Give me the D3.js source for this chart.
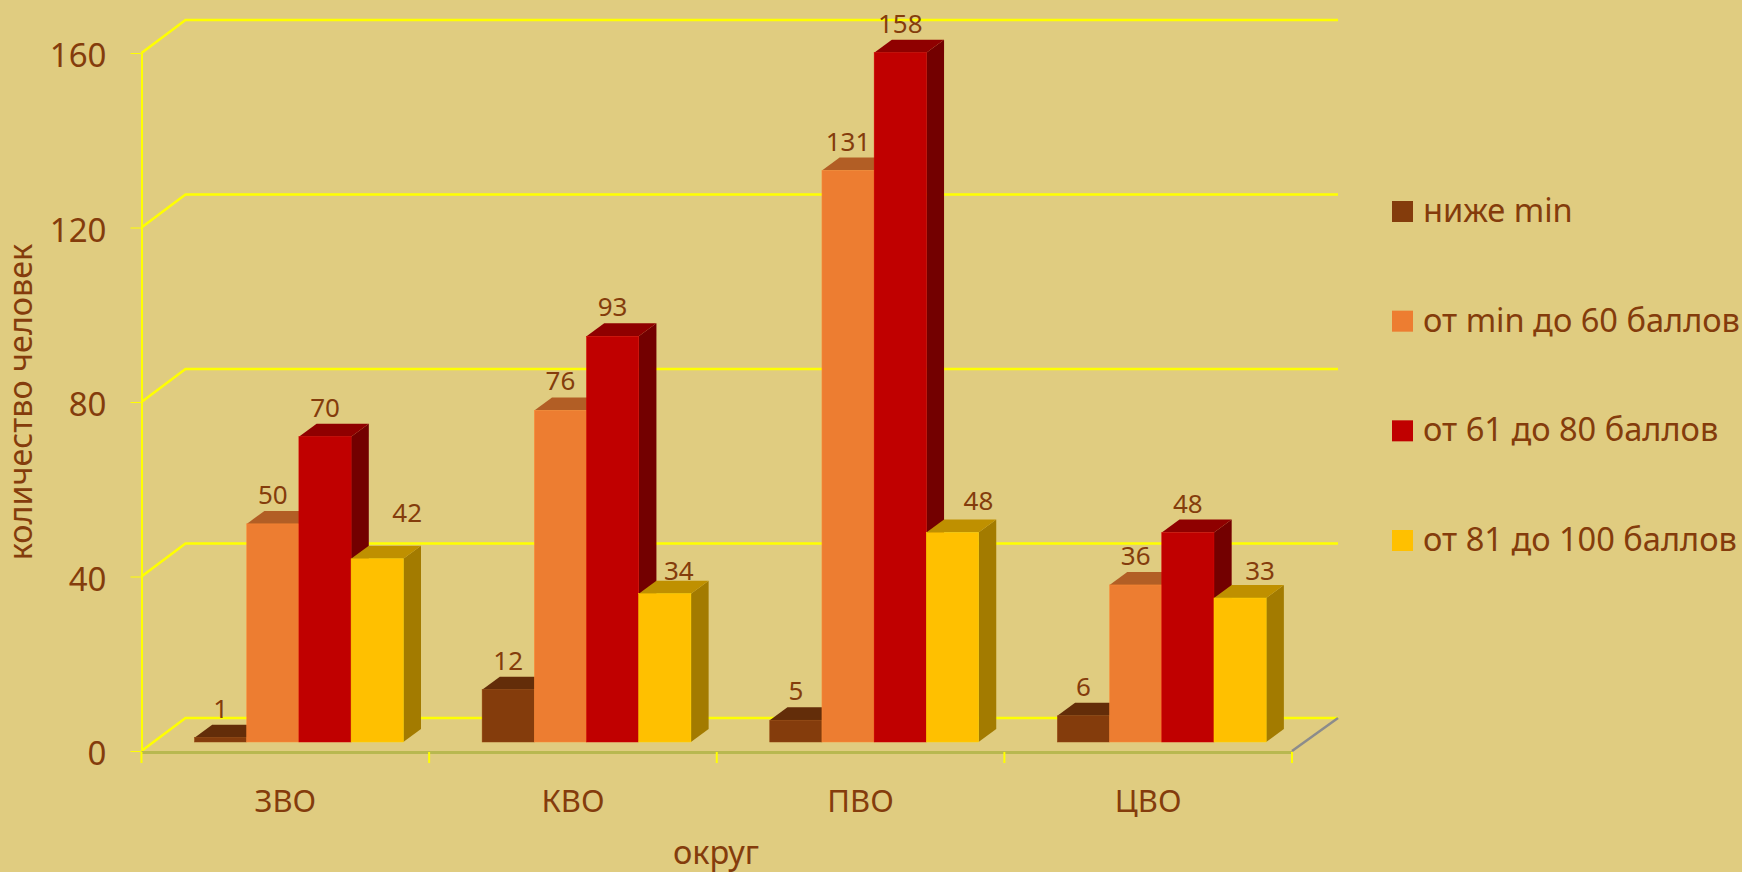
<!DOCTYPE html>
<html>
<head>
<meta charset="utf-8">
<script src="https://cdn.jsdelivr.net/npm/d3@7"></script>
<style>
  html, body { margin: 0; padding: 0; background: #E0CC80; }
  svg { display: block; }
  text { font-family: "Noto Sans", sans-serif; fill: #843C0C; }
</style>
</head>
<body>
<svg id="canvas"></svg>
<script>
const districts = ['ЗВО', 'КВО', 'ПВО', 'ЦВО'];
const seriesNames = ['ниже min', 'от min до 60 баллов', 'от 61 до 80 баллов', 'от 81 до 100 баллов'];
const belowMin = [1, 12, 5, 6];
const upTo60 = [50, 76, 131, 36];
const upTo80 = [70, 93, 158, 48];
const upTo100 = [42, 34, 48, 33];
const yTicks = [0, 40, 80, 120, 160];
const yTitle = 'количество человек';
const xTitle = 'округ';

const seriesValues = [belowMin, upTo60, upTo80, upTo100];

const width = 1742;
const height = 872;

const front = ['#843C0C', '#ED7D31', '#C00000', '#FFC000'];
const topFace = ['#632D09', '#B25E25', '#8F0000', '#BF9000'];
const sideFace = ['#4F2407', '#8E4B1D', '#730000', '#A37B00'];
const gridColor = '#FFFF00';

// fake 3d: how far the back wall sits from the front plane
const wallDx = 44;
const wallDy = 33;
const wallRight = 1338;
const barDx = 17.7;
const barDy = 13;
const barLift = 9;

const x = d3.scaleBand().domain(districts).range([141.5, 1292]);
const y = d3.scaleLinear().domain([0, 160]).range([751, 53]);
const inner = d3.scaleBand().domain(d3.range(4)).range([53, 261.8]);

// the yellow labels were moved by hand in the original
const labelNudge = { '3-0': [30, -17], '3-1': [14, 6], '3-2': [26, -3], '3-3': [20, 2] };

const svg = d3.select('#canvas').attr('width', width).attr('height', height);

// walls
const grid = svg.append('g').attr('fill', 'none').attr('stroke', gridColor).attr('stroke-width', 2.5);
grid.selectAll('polyline')
    .data(yTicks)
    .enter()
    .append('polyline')
    .attr('points', d => {
        let x0 = x.range()[0];
        return [[x0, y(d)], [x0 + wallDx, y(d) - wallDy], [wallRight, y(d) - wallDy]].join(' ');
    });

svg.append('line')
    .attr('x1', x.range()[1]).attr('y1', y(0))
    .attr('x2', wallRight).attr('y2', y(0) - wallDy)
    .attr('stroke', '#8C8C8C')
    .attr('stroke-width', 2.5);

// y axis
const yAxis = svg.append('g')
    .attr('transform', `translate(${x.range()[0]},0)`)
    .call(d3.axisLeft(y).tickValues(yTicks).tickSize(11).tickPadding(24).tickSizeOuter(0));
yAxis.select('.domain').attr('stroke', gridColor).attr('stroke-width', 2);
yAxis.selectAll('.tick line').attr('stroke', gridColor).attr('stroke-width', 1);
yAxis.selectAll('.tick text').style('font-size', '33px').attr('dy', '0.41em');

// x axis
svg.append('line')
    .attr('x1', x.range()[0]).attr('x2', x.range()[1])
    .attr('y1', y(0) + 1.5).attr('y2', y(0) + 1.5)
    .attr('stroke', '#B8B850')
    .attr('stroke-width', 3);
svg.append('g')
    .selectAll('line')
    .data(d3.range(districts.length + 1))
    .enter()
    .append('line')
    .attr('x1', i => x.range()[0] + i * x.step())
    .attr('x2', i => x.range()[0] + i * x.step())
    .attr('y1', y(0) + 1)
    .attr('y2', y(0) + 12)
    .attr('stroke', gridColor)
    .attr('stroke-width', 2);

const xAxis = svg.append('g')
    .attr('transform', `translate(0,${y(0)})`)
    .call(d3.axisBottom(x).tickSize(0).tickPadding(39));
xAxis.select('.domain').remove();
xAxis.selectAll('.tick text').style('font-size', '31px');

// bars, left to right so each one covers the side of the previous
const groups = svg.selectAll('.district')
    .data(districts)
    .enter()
    .append('g')
    .attr('class', 'district')
    .attr('transform', d => `translate(${x(d)},0)`);

seriesValues.forEach((values, s) => {
    const bars = groups.append('g').datum((d, i) => values[i]);
    const bw = inner.bandwidth();
    const left = inner(s);
    const base = y(0) - barLift;
    const barTop = v => base - (y(0) - y(v));

    bars.append('polygon')
        .attr('fill', sideFace[s])
        .attr('points', v => [[left + bw, base], [left + bw + barDx, base - barDy],
            [left + bw + barDx, barTop(v) - barDy], [left + bw, barTop(v)]].join(' '));
    bars.append('polygon')
        .attr('fill', topFace[s])
        .attr('points', v => [[left, barTop(v)], [left + barDx, barTop(v) - barDy],
            [left + bw + barDx, barTop(v) - barDy], [left + bw, barTop(v)]].join(' '));
    bars.append('rect')
        .attr('fill', front[s])
        .attr('stroke', d3.color(front[s]).brighter(0.3))
        .attr('stroke-width', 0.5)
        .attr('x', left)
        .attr('y', v => barTop(v))
        .attr('width', bw)
        .attr('height', v => base - barTop(v));
});

// data labels go on top of everything
seriesValues.forEach((values, s) => {
    const base = y(0) - barLift;
    svg.append('g')
        .selectAll('text')
        .data(values)
        .enter()
        .append('text')
        .attr('text-anchor', 'middle')
        .style('font-size', '26px')
        .attr('x', (v, i) => x(districts[i]) + inner(s) + inner.bandwidth() / 2 + (labelNudge[s + '-' + i] || [0, 0])[0])
        .attr('y', (v, i) => base - (y(0) - y(v)) - barDy - 7 + (labelNudge[s + '-' + i] || [0, 0])[1])
        .text(v => v);
});

// titles
svg.append('text')
    .attr('transform', 'translate(32,402) rotate(-90)')
    .attr('text-anchor', 'middle')
    .style('font-size', '32.3px')
    .text(yTitle);
svg.append('text')
    .attr('x', 716)
    .attr('y', 864)
    .attr('text-anchor', 'middle')
    .style('font-size', '32.5px')
    .text(xTitle);

// legend
const legendY = d3.scalePoint().domain(seriesNames).range([201, 530]);
const legend = svg.selectAll('.legend')
    .data(seriesNames)
    .enter()
    .append('g')
    .attr('class', 'legend')
    .attr('transform', d => `translate(1392,${legendY(d)})`);
legend.append('rect')
    .attr('width', 21)
    .attr('height', 21)
    .attr('fill', (d, i) => front[i]);
legend.append('text')
    .attr('x', 31)
    .attr('y', 21)
    .style('font-size', '32.6px')
    .text(d => d);
</script>
</body>
</html>
